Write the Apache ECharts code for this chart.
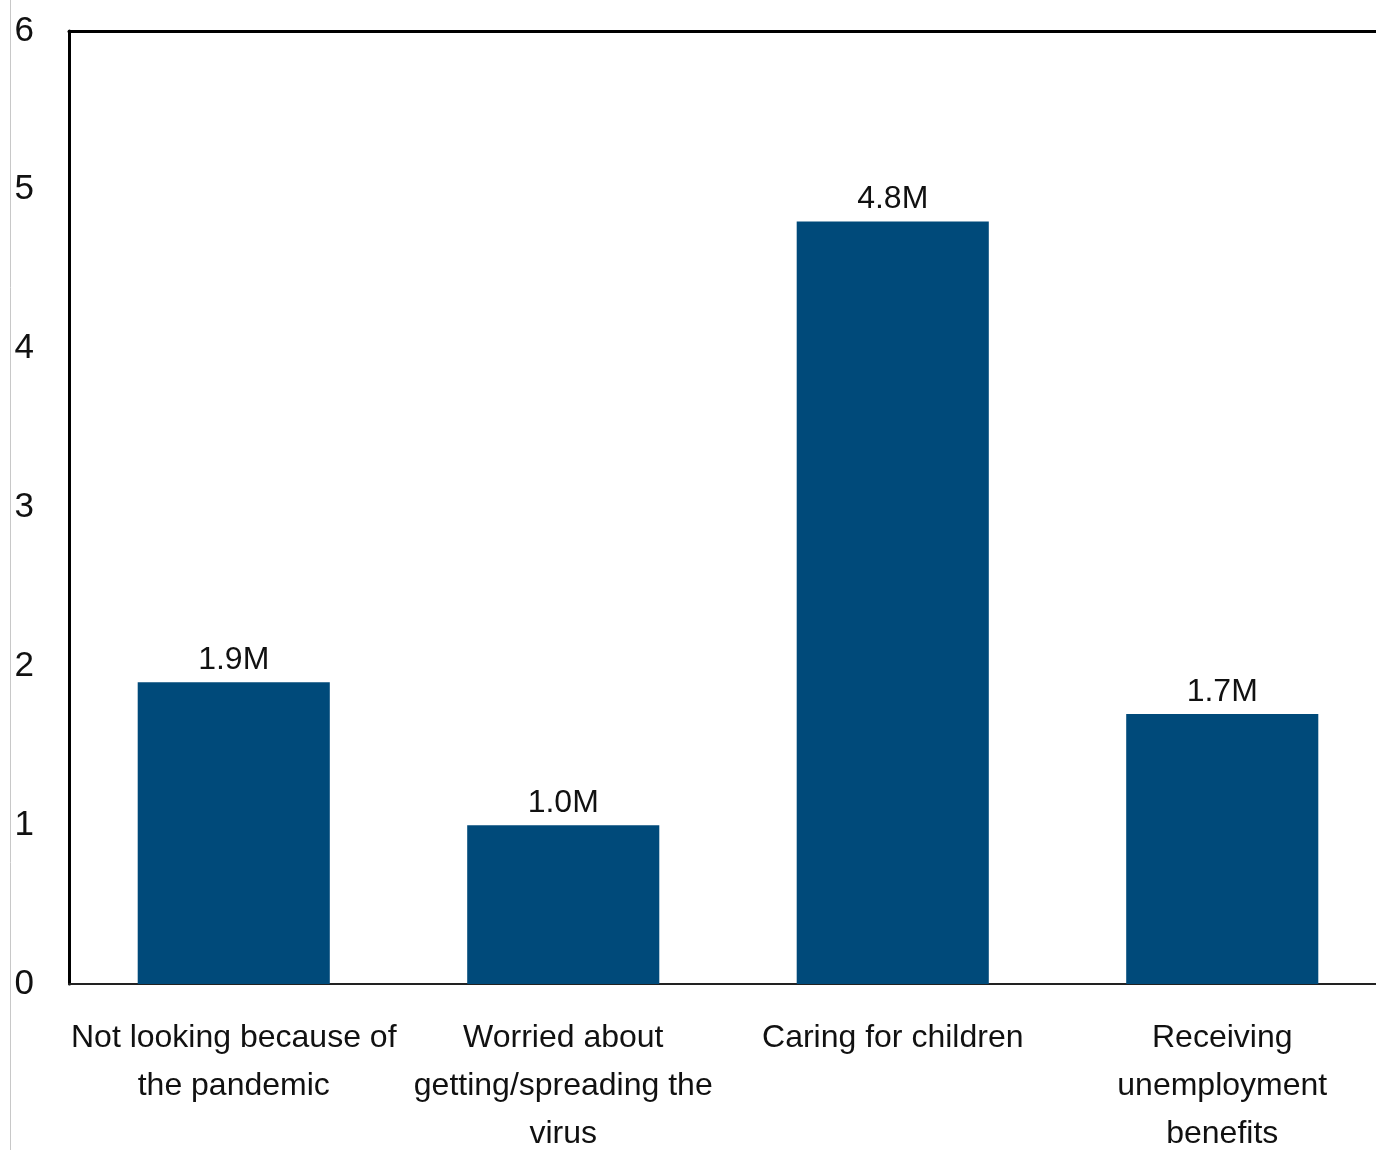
<!DOCTYPE html>
<html>
<head>
<meta charset="utf-8">
<script src="https://cdn.jsdelivr.net/npm/echarts@6/dist/echarts.min.js"></script>
<style>
    html,body{margin:0;padding:0;background:#fff;}
    #main{width:1376px;height:1150px;}
</style>
</head>
<body>
<div id="main"></div>
<script>
var categories = ['Not looking because of\nthe pandemic', 'Worried about\ngetting/spreading the\nvirus', 'Caring for children', 'Receiving\nunemployment\nbenefits'];
var values = [1.9, 1.0, 4.8, 1.7];
var yTicks = [0, 1, 2, 3, 4, 5, 6];

// 看看窄体字是否存在, 没有就用普通字体缩小字号
function hasFont(name) {
    var c = document.createElement('canvas').getContext('2d');
    var t = 'Not looking because of 1.9M';
    c.font = '40px monospace';
    var w1 = c.measureText(t).width;
    c.font = "40px '" + name + "', monospace";
    var w2 = c.measureText(t).width;
    return w1 !== w2;
}
var narrow = hasFont('Liberation Sans Narrow');
var fontName = narrow ? "'Liberation Sans Narrow', sans-serif" : "'Liberation Sans', Arial, sans-serif";
var labelSize = narrow ? 39 : 32;
var tickSize = narrow ? 42 : 35;

var chart = echarts.init(document.getElementById('main'));

chart.setOption({
    animation: false,
    textStyle: {fontFamily: fontName},
    grid: {left: 69, top: 31, width: 1318, height: 953, outerBoundsMode: 'none', containLabel: false},
    graphic: [{
        type: 'line',
        shape: {x1: 10.5, y1: 0, x2: 10.5, y2: 1150},
        style: {stroke: '#c8c8c8', lineWidth: 1}
    }],
    xAxis: [{
        type: 'category',
        data: categories,
        axisLine: {lineStyle: {color: '#222', width: 2}},
        axisTick: {show: false},
        axisLabel: {
            interval: 0, margin: 30, color: '#111',
            fontFamily: fontName, fontSize: labelSize, lineHeight: 48
        }
    }, {
        type: 'category',
        position: 'top',
        data: categories,
        axisLine: {show: true, lineStyle: {color: '#000', width: 3}},
        axisTick: {show: false},
        axisLabel: {show: false}
    }],
    yAxis: {
        type: 'value',
        min: yTicks[0],
        max: yTicks[yTicks.length - 1],
        interval: 1,
        axisLine: {show: true, lineStyle: {color: '#000', width: 3}},
        axisTick: {show: false},
        splitLine: {show: false},
        axisLabel: {
            margin: 35, color: '#111',
            fontFamily: fontName, fontSize: tickSize
        }
    },
    series: [{
        type: 'bar',
        data: values,
        barWidth: '58.3%',
        itemStyle: {color: '#004a7a'},
        label: {
            show: true,
            position: 'top',
            distance: 6,
            color: '#111',
            fontFamily: fontName,
            fontSize: labelSize,
            formatter: function (p) { return p.value.toFixed(1) + 'M'; }
        }
    }]
});
</script>
</body>
</html>
